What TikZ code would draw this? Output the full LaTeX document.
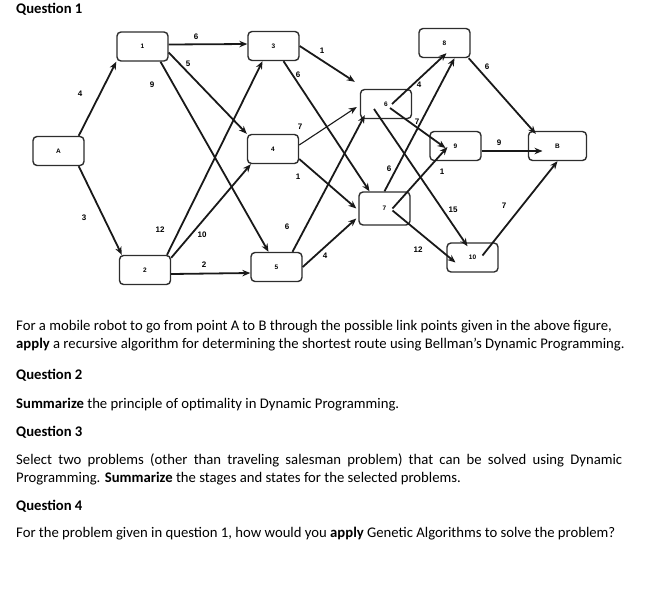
\documentclass[tikz,border=0pt]{standalone}
\usepackage{fontspec}
\setmainfont{Carlito}
\newfontfamily\diagfont{Liberation Sans}
\usetikzlibrary{arrows.meta, positioning}
\definecolor{boxgray}{RGB}{45, 45, 45}
\definecolor{linkblack}{RGB}{25, 25, 25}

\tikzset{
  stage/.style={draw=boxgray, line width=1.4pt, rounded corners=4pt, minimum width=51pt, minimum height=29pt, inner sep=0pt, font=\diagfont\bfseries\fontsize{6.5}{7}\selectfont},
  link/.style={draw=linkblack, line width=1.8pt, -{Stealth[length=8pt,width=6.5pt]}},
  wt/.style={font=\diagfont\bfseries\fontsize{8}{9}\selectfont, inner sep=0pt},
  qline/.style={anchor=base west, inner sep=0pt, font=\fontsize{14.7}{18}\selectfont}
}

\begin{document}
\begin{tikzpicture}[x=1pt, y=-1pt]
  \useasboundingbox (0,0) rectangle (661,592);

  % stages of the route
  \node[stage] (A) at (58.5,151) {A};
  \node[stage] (n1) at (142.5,46.5) {1};
  \node[stage] (n2) at (145,270) {2};
  \node[stage] (n3) at (273.5,46) {3};
  \node[stage] (n4) at (273,149) {4};
  \node[stage] (n5) at (276.5,267) {5};
  \node[stage] (n6) at (386,104) {6};
  \node[stage, minimum height=33pt] (n7) at (384.5,208.5) {7};
  \node[stage] (n8) at (444.5,43) {8};
  \node[stage] (n9) at (455.5,146) {9};
  \node[stage] (n10) at (472.5,257.5) {10};
  \node[stage, minimum width=58pt] (B) at (557.5,146) {B};

  % links
  \draw[link] ([xshift=-6pt]A.north east) -- (n1.south west);
  \draw[link] ([xshift=-6pt]A.south east) -- ([xshift=3pt]n2.north west);
  \draw[link] ([yshift=2pt]n1.east) -- ([yshift=2pt]n3.west);
  \draw[link] ([yshift=-6pt]n1.east) -- (n4.north west);
  \draw[link] ([xshift=18pt]n1.south) -- ([xshift=-8pt]n5.north);
  \draw[link] ([xshift=22pt]n2.north) -- ([xshift=-11pt]n3.south);
  \draw[link] ([yshift=-3pt]n2.north east) -- ([xshift=4pt]n4.south west);
  \draw[link] ([yshift=-4pt]n2.east) -- ([yshift=-6pt]n5.west);
  \draw[link] (n3.east) -- ([shift={(-5pt,7pt)}]n6.north west);
  \draw[link] ([xshift=10pt]n3.south) -- ([xshift=-15pt]n7.north);
  \draw[link, line width=1.1pt] ([yshift=4pt]n4.east) -- ([shift={(-3pt,-3pt)}]n6.west);
  \draw[link] ([yshift=-10pt]n4.east) -- ([xshift=-2pt]n7.west);
  \draw[link] ([xshift=16pt]n5.north) -- ([xshift=5pt,yshift=4pt]n6.south west);
  \draw[link] (n5.east) -- ([shift={(-2pt,-10pt)}]n7.west);
  \draw[link] ([xshift=6pt]n6.center) -- ([xshift=2pt,yshift=5pt]n8.south);
  \draw[link] ([shift={(4pt,-4pt)}]n6.center) -- ([shift={(-10pt,-2pt)}]n9.center);
  \draw[link] ([shift={(-12pt,-5pt)}]n6.center) -- ([xshift=-5pt,yshift=-4pt]n10.north);
  \draw[link] (n7.north) -- ([xshift=10pt]n8.south);
  \draw[link] ([xshift=8pt]n7.center) -- ([shift={(-8pt,-1pt)}]n9.center);
  \draw[link] ([shift={(8pt,-2pt)}]n7.center) -- ([shift={(-17pt,-5pt)}]n10.center);
  \draw[link] ([xshift=-2pt]n8.south east) -- ([shift={(8pt,-3pt)}]B.north west);
  \draw[link] ([yshift=-5pt]n9.east) -- ([shift={(-15pt,-5pt)}]B.center);
  \draw[link] ([shift={(10pt,2pt)}]n10.center) -- (B.south);

  % link weights
  \node[wt] (wA1) at (80,94) {4};
  \node[wt] (wA2) at (84,218) {3};
  \node[wt] (w13) at (196,37) {6};
  \node[wt] (w14) at (188,64) {5};
  \node[wt] (w15) at (152,85) {9};
  \node[wt] (w23) at (160,230) {12};
  \node[wt] (w24) at (202,235) {10};
  \node[wt] (w25) at (204,265) {2};
  \node[wt] (w36) at (322,51) {1};
  \node[wt] (w37) at (298,75) {6};
  \node[wt] (w46) at (300,127) {7};
  \node[wt] (w47) at (298,177) {1};
  \node[wt] (w56) at (287,227) {6};
  \node[wt] (w57) at (325,256) {4};
  \node[wt] (w68) at (419,85) {4};
  \node[wt] (w69) at (417,122) {7};
  \node[wt] (w78) at (389,169) {6};
  \node[wt] (w79) at (442,172) {1};
  \node[wt] (w610) at (453,210) {15};
  \node[wt] (w710) at (418,250) {12};
  \node[wt] (w8B) at (487,67) {6};
  \node[wt] (w9B) at (499,143) {9};
  \node[wt] (w10B) at (504,206) {7};

  % questions
  \node[qline] (q1) at (16,13) {\textbf{Question 1}};
  \node[qline] (q1a) at (16,330) {For a mobile robot to go from point A to B through the possible link points given in the above figure,};
  \node[qline] (q1b) at (16,348) {\textbf{apply} a recursive algorithm for determining the shortest route using Bellman’s Dynamic Programming.};
  \node[qline] (q2) at (16,379) {\textbf{Question 2}};
  \node[qline] (q2a) at (16,408) {\textbf{Summarize} the principle of optimality in Dynamic Programming.};
  \node[qline] (q3) at (16,436) {\textbf{Question 3}};
  \node[qline] (q3a) at (16,464) {\makebox[606pt][s]{Select two problems (other than traveling salesman problem) that can be solved using Dynamic}};
  \node[qline] (q3b) at (16,482) {Programming. \textbf{Summarize} the stages and states for the selected problems.};
  \node[qline] (q4) at (16,510) {\textbf{Question 4}};
  \node[qline] (q4a) at (16,537) {For the problem given in question 1, how would you \textbf{apply} Genetic Algorithms to solve the problem?};
\end{tikzpicture}
\end{document}
